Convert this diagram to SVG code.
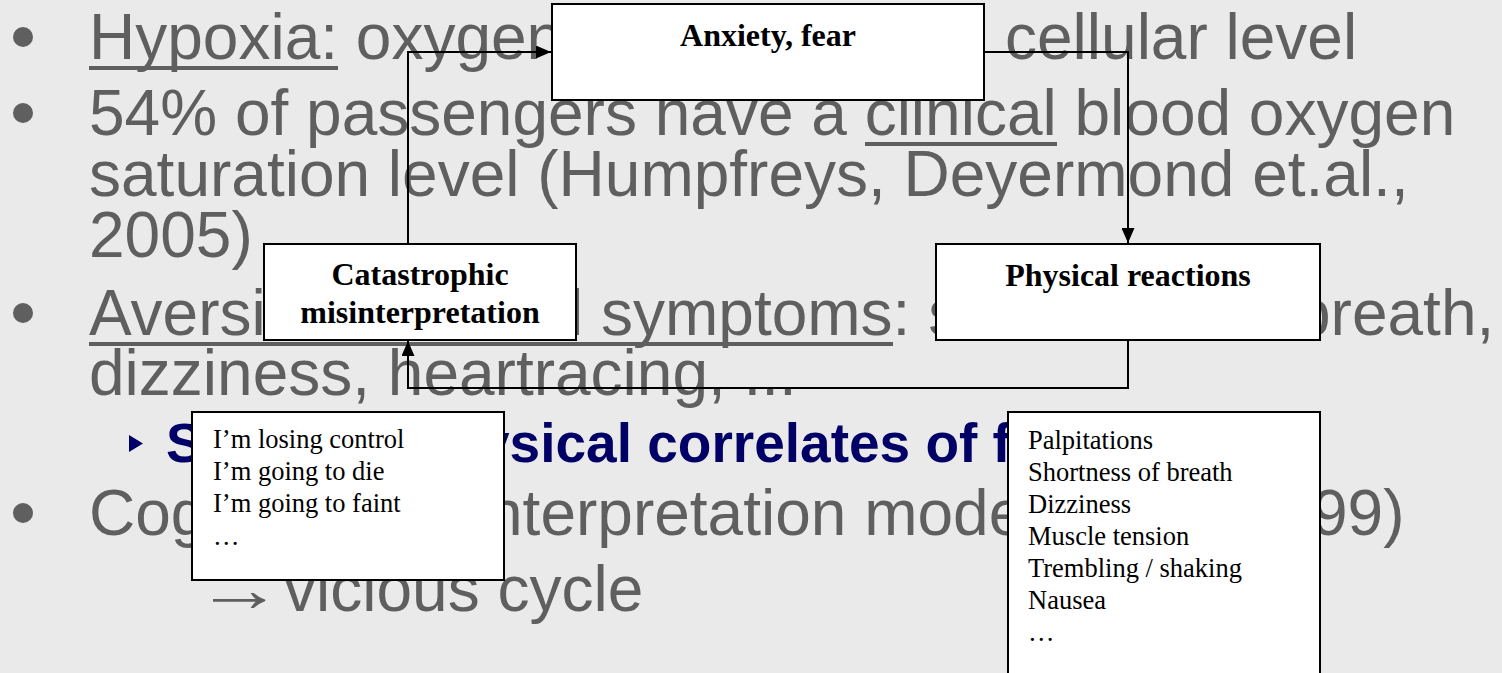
<svg xmlns="http://www.w3.org/2000/svg" width="1502" height="673" viewBox="0 0 1502 673">
<style>
.slide{font-family:"Liberation Sans",Arial,sans-serif;font-size:64px;fill:#5f5f5f}
.sub{font-family:"Liberation Sans",Arial,sans-serif;font-size:55px;font-weight:bold;fill:#000066}
.ul{fill:#5f5f5f}
.dot{fill:#5f5f5f}
.box{fill:#ffffff;stroke:#000000;stroke-width:2}
.title{font-family:"Liberation Serif","Times New Roman",serif;font-size:32px;font-weight:bold;fill:#000000;text-anchor:middle}
.list{font-family:"Liberation Serif","Times New Roman",serif;font-size:26.5px;fill:#000000}
.conn{fill:none;stroke:#000000;stroke-width:2}
</style>
<defs>
<marker id="arrow" markerUnits="userSpaceOnUse" markerWidth="15" markerHeight="13" refX="15" refY="6.5" orient="auto">
<path d="M0,0 L15,6.5 L0,13 Z" fill="#000000"/>
</marker>
</defs>
<rect x="0" y="0" width="1502" height="673" fill="#eaeaea"/>
<g id="slide-text">
<circle class="dot" cx="23" cy="37" r="10"/>
<circle class="dot" cx="23" cy="113" r="10"/>
<circle class="dot" cx="23" cy="313" r="10"/>
<circle class="dot" cx="23" cy="513" r="10"/>
<text class="slide" x="89" y="59">Hypoxia: oxygen</text>
<text class="slide" x="1005" y="59">cellular level</text>
<rect class="ul" x="89" y="66" width="249" height="4"/>
<text class="slide" x="89" y="135">54% of passengers have a clinical blood oxygen</text>
<rect class="ul" x="865" y="142" width="192" height="4"/>
<text class="slide" x="89" y="196">saturation level (Humpfreys, Deyermond et.al.,</text>
<text class="slide" x="89" y="257">2005)</text>
<text class="slide" x="89" y="335">Aversi</text>
<text class="slide" x="569" y="335">l symptoms: s</text>
<text class="slide" x="1295" y="335">breath,</text>
<rect class="ul" x="89" y="342" width="804" height="4"/>
<text class="slide" x="89" y="395">dizziness, heartracing, ...</text>
<polygon points="129,435 143,443.5 129,452" fill="#000066"/>
<text class="sub" x="166" y="462">S</text>
<text class="sub" x="479" y="462">ysical correlates of fear</text>
<text class="slide" x="89" y="535">Cog</text>
<text class="slide" x="487" y="535">nterpretation mode</text>
<text class="slide" x="1312" y="535">99)</text>
<text class="slide" x="0" y="0" transform="translate(195,611) scale(1.38,1)">→</text>
<text class="slide" x="284" y="611">vicious cycle</text>
</g>
<g id="connectors">
<path class="conn" d="M408,243 V52 H551" marker-end="url(#arrow)"/>
<path class="conn" d="M985,52 H1128 V243" marker-end="url(#arrow)"/>
<path class="conn" d="M1128,341 V388 H408 V341" marker-end="url(#arrow)"/>
</g>
<g id="anxiety">
<rect class="box" x="552" y="4" width="432" height="96"/>
<text class="title" x="768" y="46">Anxiety, fear</text>
</g>
<g id="catastrophic">
<rect class="box" x="264" y="244" width="312" height="96"/>
<text class="title" x="420" y="285">Catastrophic</text>
<text class="title" x="420" y="323">misinterpretation</text>
</g>
<g id="physical">
<rect class="box" x="936" y="244" width="384" height="96"/>
<text class="title" x="1128" y="286">Physical reactions</text>
</g>
<g id="thoughts">
<rect class="box" x="192" y="412" width="312" height="168"/>
<text class="list" x="213" y="448">I’m losing control</text>
<text class="list" x="213" y="480">I’m going to die</text>
<text class="list" x="213" y="512">I’m going to faint</text>
<text class="list" x="213" y="545">…</text>
</g>
<g id="symptoms">
<rect class="box" x="1008" y="412" width="312" height="300"/>
<text class="list" x="1028" y="449">Palpitations</text>
<text class="list" x="1028" y="481">Shortness of breath</text>
<text class="list" x="1028" y="513">Dizziness</text>
<text class="list" x="1028" y="545">Muscle tension</text>
<text class="list" x="1028" y="577">Trembling / shaking</text>
<text class="list" x="1028" y="609">Nausea</text>
<text class="list" x="1028" y="641">…</text>
</g>
</svg>
